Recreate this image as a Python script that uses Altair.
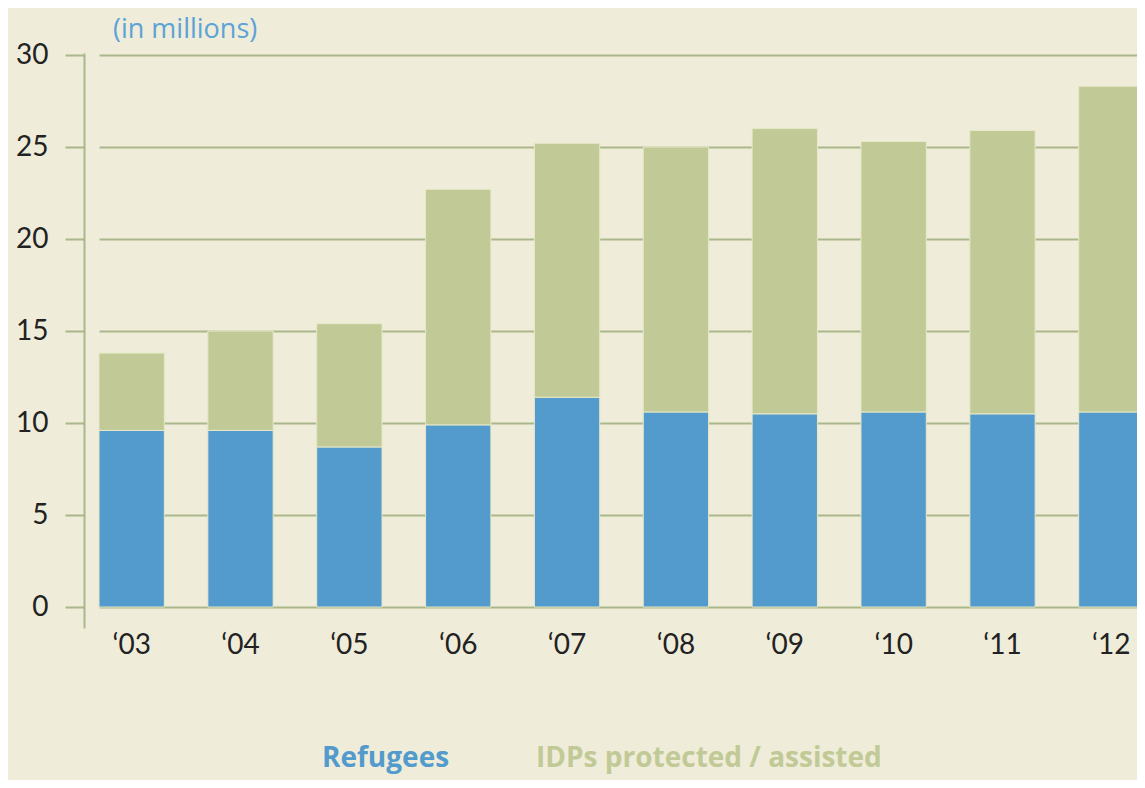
import altair as alt
import pandas as pd

years = ["‘03", "‘04", "‘05", "‘06", "‘07", "‘08", "‘09", "‘10", "‘11", "‘12"]
refugees = [9.6, 9.6, 8.7, 9.9, 11.4, 10.6, 10.5, 10.6, 10.5, 10.6]
idps = [4.2, 5.4, 6.7, 12.8, 13.8, 14.4, 15.5, 14.7, 15.4, 17.7]
series_names = ["Refugees", "IDPs protected / assisted"]
series_colors = ["#529bcc", "#c1ca96"]

rows = []
for i, y in enumerate(years):
    rows.append({"year": y, "series": series_names[0], "value": refugees[i], "ord": 0})
    rows.append({"year": y, "series": series_names[1], "value": idps[i], "ord": 1})
df = pd.DataFrame(rows)

BG = "#efecda"
GRID = "#a9b78a"
FONT = "Lato"

bars = alt.Chart(df).mark_bar(stroke="#e6e8c8", strokeWidth=1).encode(
    x=alt.X("year:N", sort=years,
            scale=alt.Scale(range=[15, 1060], paddingInner=0.4, paddingOuter=0, round=False),
            axis=alt.Axis(title=None, domain=False, ticks=False, grid=False, labelAngle=0,
                          labelFontSize=28, labelFont=FONT, labelColor="#222222", labelPadding=3)),
    y=alt.Y("value:Q", stack="zero",
            scale=alt.Scale(domain=[-1.14, 30.11], nice=False, zero=False),
            axis=alt.Axis(title=None, values=[0, 5, 10, 15, 20, 25, 30], grid=True,
                          gridColor=GRID, gridWidth=2, gridOpacity=1,
                          domain=True, domainColor=GRID, domainWidth=2,
                          ticks=True, tickColor=GRID, tickSize=19, tickWidth=2,
                          labelFontSize=28, labelFont=FONT, labelColor="#222222",
                          labelPadding=17)),
    color=alt.Color("series:N", scale=alt.Scale(domain=series_names, range=series_colors), legend=None),
    order=alt.Order("ord:Q"),
)

title = alt.Chart(pd.DataFrame({"t": ["(in millions)"]})).mark_text(
    align="left", baseline="middle", fontSize=27, font="Open Sans", color="#5ca3d6"
).encode(text="t:N", x=alt.value(29), y=alt.value(-23))

leg1 = alt.Chart(pd.DataFrame({"t": [series_names[0]]})).mark_text(
    align="left", baseline="middle", fontSize=28, font="Open Sans", fontWeight="bold", color=series_colors[0]
).encode(text="t:N", x=alt.value(238), y=alt.value(706))

leg2 = alt.Chart(pd.DataFrame({"t": [series_names[1]]})).mark_text(
    align="left", baseline="middle", fontSize=28, font="Open Sans", fontWeight="bold", color=series_colors[1]
).encode(text="t:N", x=alt.value(452), y=alt.value(706))

chart = alt.layer(bars, title, leg1, leg2).properties(
    width=1053, height=575,
    background=BG,
    autosize=alt.AutoSizeParams(type="none"),
    padding={"left": 76, "top": 45, "right": 0, "bottom": 152},
).configure_view(stroke=None)

chart.save("out.html", embed_options={"renderer": "svg", "actions": False})
